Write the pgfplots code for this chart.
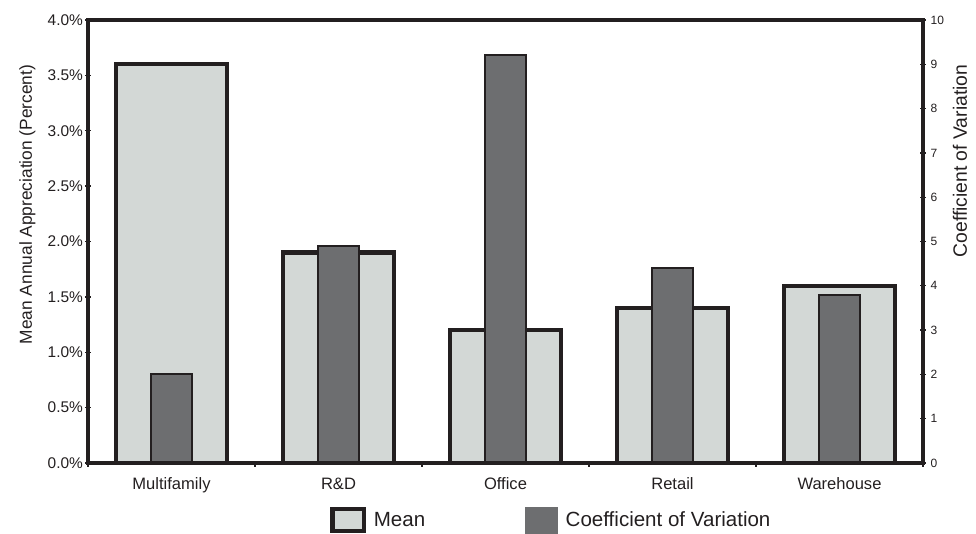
\documentclass[border=0pt]{standalone}
\usepackage{pgfplots}
\pgfplotsset{compat=1.18}
\usepackage{fontspec}
\setmainfont{Liberation Sans}
\definecolor{meanfill}{RGB}{211,216,214}
\definecolor{covfill}{RGB}{109,110,112}
\definecolor{ink}{RGB}{35,31,32}
\begin{document}
\begin{tikzpicture}[text=ink]
\path[use as bounding box] (-66pt,-53.25pt) rectangle (666pt,347.25pt);
% primary axis: mean
\begin{axis}[
  name=main,
  at={(0pt,0pt)}, anchor=south west,
  scale only axis, width=626.25pt, height=332.25pt,
  xmin=-0.5, xmax=4.5, ymin=0, ymax=4,
  clip=false,
  axis line style={draw=ink, line width=2.2pt},
  tick align=center, major tick length=4.5pt,
  xtick={0,1,2,3,4},
  xticklabels={Multifamily,R\&D,Office,Retail,Warehouse},
  xtick style={draw=none},
  xticklabel style={font=\fontsize{12.4}{14}\selectfont, yshift=-3pt},
  extra x ticks={-0.5,0.5,1.5,2.5,3.5,4.5},
  extra x tick labels={},
  extra x tick style={xtick style={draw=ink, line width=1pt}, tick align=outside, major tick length=3pt},
  xtick pos=bottom,
  ytick={0,0.5,1,1.5,2,2.5,3,3.5,4},
  yticklabels={0.0\%,0.5\%,1.0\%,1.5\%,2.0\%,2.5\%,3.0\%,3.5\%,4.0\%},
  ytick pos=left,
  ytick style={draw=ink, line width=1pt},
  yticklabel style={font=\fontsize{11.6}{13}\selectfont, xshift=2pt},
  ylabel={Mean Annual Appreciation (Percent)},
  every axis y label/.style={at={(axis description cs:-0.0725,0.5835)}, rotate=90, anchor=center, font=\fontsize{13}{15}\selectfont},
  ybar, bar width=0.669, bar shift=0pt,
]
\addplot[fill=meanfill, draw=ink, line width=3.2pt] coordinates {(0,3.6) (1,1.9) (2,1.2) (3,1.4) (4,1.6)};
\end{axis}
% secondary axis: coefficient of variation
\begin{axis}[
  at={(0pt,0pt)}, anchor=south west,
  scale only axis, width=626.25pt, height=332.25pt,
  xmin=-0.5, xmax=4.5, ymin=0, ymax=10,
  hide x axis,
  clip=false,
  axis line style={draw=ink, line width=2.2pt},
  tick align=center, major tick length=4.5pt,
  ytick={0,1,2,3,4,5,6,7,8,9,10},
  ytick pos=right, yticklabel pos=right,
  ytick style={draw=ink, line width=1pt},
  yticklabel style={font=\fontsize{9}{10}\selectfont, /pgf/number format/assume math mode=true},
  ylabel={Coefficient of Variation},
  every axis y label/.style={at={(axis description cs:1.0443,0.6817)}, rotate=90, anchor=center, font=\fontsize{14.5}{16}\selectfont},
  ybar, bar width=0.245, bar shift=0pt,
  legend style={at={(rel axis cs:0.2898,-0.1287)}, anchor=west, draw=none, fill=none, inner sep=0pt,
    nodes={inner sep=0pt, font=\fontsize{15.4}{18}\selectfont},
    /tikz/every odd column/.append style={column sep=6pt},
    /tikz/every even column/.append style={column sep=75pt}},
  legend columns=2,
]
\addlegendimage{legend image code/.code={\draw[fill=meanfill, draw=ink, line width=3.2pt] (1.6pt,-8.5pt) rectangle (25.1pt,8.5pt);}}
\addlegendentry{Mean}
\addlegendimage{legend image code/.code={\fill[covfill] (0pt,-9.75pt) rectangle (24pt,9.75pt);}}
\addlegendentry{Coefficient of Variation}
\addplot[forget plot, fill=covfill, draw=ink, line width=1.5pt] coordinates {(0,2.0) (1,4.9) (2,9.2) (3,4.4) (4,3.8)};
\end{axis}
\draw[draw=ink, line width=2.4pt] (main.south west) rectangle (main.north east);
\end{tikzpicture}
\end{document}
